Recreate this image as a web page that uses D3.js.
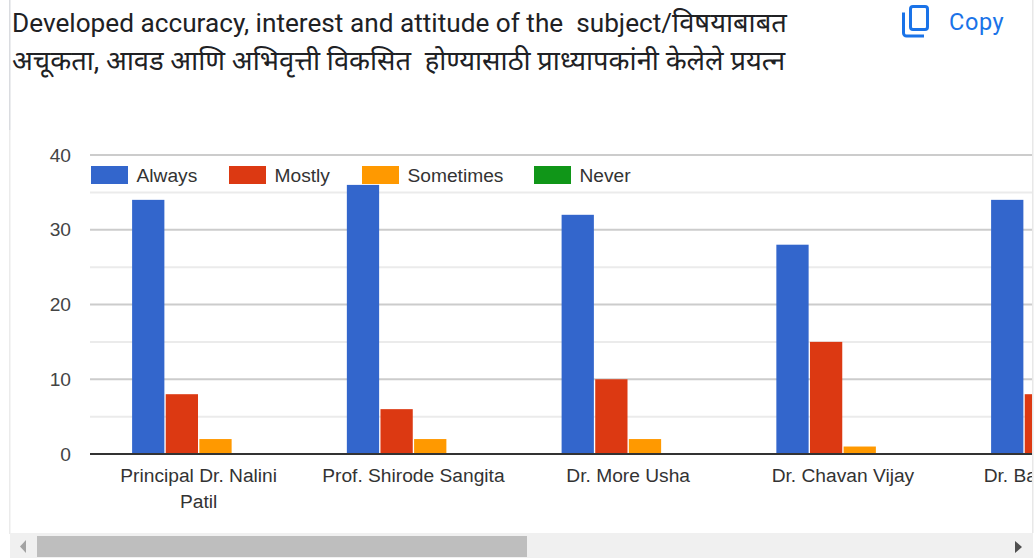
<!DOCTYPE html>
<html><head><meta charset="utf-8">
<style>html,body{margin:0;padding:0;background:#fff;overflow:hidden}svg{display:block}</style>
<script src="https://cdn.jsdelivr.net/npm/d3@7"></script></head>
<body><svg id="c" width="1036" height="558"></svg>
<script>
const titleLatin = "Developed accuracy, interest and attitude of the  subject/";
const titleLine1End = "विषयाबाबत";
const titleLine2 = "अचूकता, आवड आणि अभिवृत्ती विकसित  होण्यासाठी प्राध्यापकांनी केलेले प्रयत्न";
const categories = ["Principal Dr. Nalini Patil", "Prof. Shirode Sangita", "Dr. More Usha", "Dr. Chavan Vijay", "Dr. Ba"];
const seriesNames = ["Always", "Mostly", "Sometimes", "Never"];
const seriesColors = ["#3366cc", "#dc3912", "#ff9900", "#109618"];
const always = [34, 36, 32, 28, 34];
const mostly = [8, 6, 10, 15, 8];
const sometimes = [2, 2, 2, 1, 0];
const never = [0, 0, 0, 0, 0];
const yTicks = [0, 10, 20, 30, 40];
const yMinor = [5, 15, 25, 35];
const seriesValues = [always, mostly, sometimes, never];

const svg = d3.select("#c");
const sans = "'Liberation Sans', Arial, sans-serif";
const plotRight = 1032;
const labelSize = 19.2;

// frame
svg.append("rect").attr("x",9).attr("y",0).attr("width",1.5).attr("height",130).attr("fill","#dadce0");
svg.append("rect").attr("x",9).attr("y",130).attr("width",1.5).attr("height",404).attr("fill","#ebebeb");
svg.append("rect").attr("x",1032).attr("y",0).attr("width",1.5).attr("height",533).attr("fill","#e8e8e8");

// title
const titleFont = "Roboto, 'Noto Sans', sans-serif";
const t1 = svg.append("text").attr("x",12).attr("y",32).attr("font-family",titleFont).attr("fill","#202124").style("white-space","pre");
t1.append("tspan").attr("font-size",26.2).text(titleLatin);
t1.append("tspan").attr("font-size",27.3).text(titleLine1End);
svg.append("text").attr("x",12).attr("y",70).attr("font-family",titleFont).attr("font-size",27.3).attr("fill","#202124").style("white-space","pre").text(titleLine2);

// copy button
svg.append("path").attr("d","M903.5 12.5V33a3 3 0 0 0 3 3H924").attr("fill","none").attr("stroke","#1a73e8").attr("stroke-width",3);
svg.append("rect").attr("x",910.5).attr("y",6.5).attr("width",17).attr("height",23).attr("rx",2.5).attr("fill","none").attr("stroke","#1a73e8").attr("stroke-width",3);
svg.append("text").attr("x",949).attr("y",30).attr("font-family","Roboto, sans-serif").attr("font-size",23.5).attr("letter-spacing",0.6).attr("fill","#1a73e8").text("Copy");

// scales
const step = 214.75;
const x0 = d3.scaleBand().domain(categories).range([91.3, 91.3 + step*categories.length]).paddingInner(0.38).paddingOuter(0.19);
const x1 = d3.scaleBand().domain(seriesNames).range([0, x0.bandwidth()]).paddingInner(0.04);
const y = d3.scaleLinear().domain([0,40]).range([454,155]);

const clip = svg.append("defs").append("clipPath").attr("id","pc");
clip.append("rect").attr("x",0).attr("y",0).attr("width",plotRight).attr("height",530);
const g = svg.append("g").attr("clip-path","url(#pc)");

// gridlines
g.selectAll("line.minor").data(yMinor).join("line").attr("class","minor")
  .attr("x1",90).attr("x2",plotRight).attr("y1",y).attr("y2",y).attr("stroke","#ebebeb").attr("stroke-width",2);
g.selectAll("line.major").data(yTicks.filter(d=>d>0)).join("line").attr("class","major")
  .attr("x1",90).attr("x2",plotRight).attr("y1",y).attr("y2",y).attr("stroke","#cccccc").attr("stroke-width",2);

// bars
seriesNames.forEach((s,si)=>{
  g.append("g").selectAll("rect").data(seriesValues[si]).join("rect")
    .attr("x",(d,i)=>x0(categories[i])+x1(s))
    .attr("y",d=>y(d)).attr("width",x1.bandwidth()).attr("height",d=>y(0)-y(d))
    .attr("fill",seriesColors[si]);
});

// baseline
g.append("line").attr("x1",90).attr("x2",plotRight).attr("y1",y(0)).attr("y2",y(0)).attr("stroke","#333333").attr("stroke-width",2);

// y axis
const ya = svg.append("g").attr("transform","translate(90,0)").call(d3.axisLeft(y).tickValues(yTicks).tickSize(0).tickPadding(19));
ya.select(".domain").remove();
ya.selectAll("text").attr("font-family",sans).attr("font-size",labelSize).attr("fill","#444444");

// x axis
const xa = g.append("g").attr("transform","translate(0,454)").call(d3.axisBottom(x0).tickSize(0).tickFormat(""));
xa.select(".domain").remove();
const wraps = {"Principal Dr. Nalini Patil":["Principal Dr. Nalini","Patil"]};
xa.selectAll(".tick").each(function(d){
  const t = d3.select(this).select("text").attr("font-family",sans).attr("font-size",labelSize).attr("fill","#333333").attr("y",0).attr("dy",0);
  (wraps[d]||[d]).forEach((l,i)=>t.append("tspan").attr("x",0).attr("y",28+i*26).text(l));
  if(d==="Dr. Ba"){ t.attr("text-anchor","start"); t.selectAll("tspan").attr("x",-74); }
});

// legend
const legendX = [91,229,362,534];
seriesNames.forEach((s,i)=>{
  svg.append("rect").attr("x",legendX[i]).attr("y",166).attr("width",37).attr("height",18).attr("fill",seriesColors[i]);
  svg.append("text").attr("x",legendX[i]+45.5).attr("y",182).attr("font-family",sans).attr("font-size",labelSize).attr("fill","#333333").text(s);
});

// scrollbar
svg.append("rect").attr("x",10).attr("y",533).attr("width",1023).attr("height",25).attr("fill","#f0f0f0");
svg.append("rect").attr("x",37).attr("y",536).attr("width",490).attr("height",21).attr("fill","#bebebe");
svg.append("path").attr("d","M26 540L20 546.5L26 553Z").attr("fill","#a3a3a3");
svg.append("path").attr("d","M1015 541L1022 547L1015 553Z").attr("fill","#505050");
</script></body></html>
